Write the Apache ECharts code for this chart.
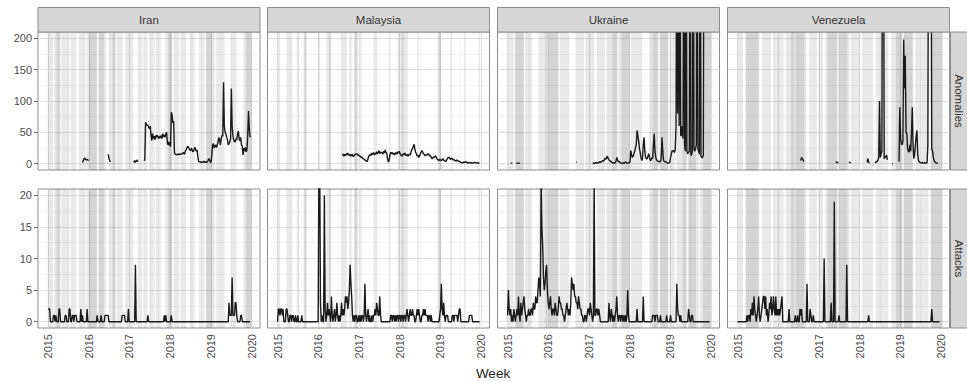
<!DOCTYPE html>
<html>
<head>
<meta charset="utf-8">
<script src="https://cdn.jsdelivr.net/npm/echarts@6/dist/echarts.min.js"></script>
<style>
  html, body { margin: 0; padding: 0; background: #fff; }
  #chart { width: 967px; height: 382px; }
</style>
</head>
<body>
<div id="chart"></div>
<script>
const _ = null; // week without a value

const countries = ['Iran', 'Malaysia', 'Ukraine', 'Venezuela'];
const rowNames = ['Anomalies', 'Attacks'];

// weekly series, first week starts at 2015.0
const firstWeek = 2015.0;
const weekStep = 7 / 365.25;

const iranAnomalies = [
  _,_,_,_,_,_,_,_,_,_,_,_,_,_,_,_,_,_,_,_,
  _,_,_,_,_,_,_,_,_,_,_,_,_,_,_,_,_,_,_,_,
  _,_,_,_,2,4,8,9,7,6,7,6,5,_,_,_,_,_,_,_,
  _,_,_,_,_,_,_,_,_,_,_,_,_,_,_,_,_,15,9,5,
  3,_,_,_,_,_,_,_,_,_,_,_,_,_,_,_,_,_,_,_,
  _,_,_,_,_,_,_,_,_,_,2,5,2,4,6,3,_,_,_,_,
  _,_,_,5,6,66,63,61,62,58,56,60,45,37,48,40,44,38,45,42,
  46,42,40,44,41,45,40,48,43,46,42,48,50,33,30,35,29,28,82,78,
  65,68,18,15,15,14,15,15,14,16,15,15,17,16,18,15,20,22,25,28,
  26,24,21,22,25,20,19,22,26,24,20,22,12,4,3,3,2,3,2,3,
  4,2,3,2,3,5,8,6,3,2,15,30,32,25,28,30,26,30,35,42,
  38,30,40,45,44,130,60,50,48,42,38,30,32,35,40,120,60,45,38,35,
  35,40,38,48,52,40,36,42,30,28,14,25,20,26,19,22,45,84,56,42
];
const malaysiaAnomalies = [
  _,_,_,_,_,_,_,_,_,_,_,_,_,_,_,_,_,_,_,_,
  _,_,_,_,_,_,_,_,_,_,_,_,_,_,_,_,_,_,_,_,
  _,_,_,_,_,_,_,_,_,_,_,_,_,_,_,_,_,_,_,_,
  _,_,_,_,_,_,_,_,_,_,_,_,_,_,_,_,_,_,_,_,
  _,_,_,16,14,12,15,13,15,17,14,16,13,15,12,14,15,11,13,14,
  16,15,16,13,14,12,12,10,11,9,8,7,6,5,4,4,8,12,14,15,
  13,17,15,18,14,17,15,19,16,18,21,16,19,17,18,15,20,17,22,18,
  16,8,3,5,14,18,16,18,15,17,14,16,18,15,19,17,20,16,14,12,
  13,16,14,17,15,13,15,12,13,16,14,18,22,24,28,31,24,18,16,12,
  14,10,12,16,18,21,19,16,15,13,13,15,14,16,15,12,13,10,8,9,
  11,10,12,12,9,7,6,5,7,6,5,6,8,6,5,4,4,6,9,10,
  10,8,7,9,8,6,7,5,5,4,6,5,4,4,3,2,2,1,2,3,
  2,3,3,2,1,2,2,1,1,2,1,1,2,2,2,1,1,2,1,1
];
const ukraineAnomalies = [
  _,_,_,_,1,1,1,_,_,_,_,1,1,1,1,1,1,_,_,_,
  _,_,_,_,_,_,_,_,_,_,_,_,_,_,_,_,_,_,_,_,
  _,_,_,_,_,_,_,_,_,_,_,_,_,_,_,_,_,_,_,_,
  _,_,_,_,_,_,_,_,_,_,_,_,_,_,_,_,_,_,_,_,
  _,_,_,_,_,_,_,_,3,3,_,_,_,_,_,_,_,_,_,_,
  _,_,_,_,_,_,_,_,_,1,1,0,1,2,1,2,1,2,3,2,
  3,4,5,4,6,9,7,10,12,8,6,5,4,3,2,1,1,2,1,4,
  10,6,3,4,2,1,1,0,1,2,1,3,2,1,1,2,1,3,21,14,
  10,12,16,20,26,30,53,45,37,25,18,10,5,8,30,42,20,10,8,8,
  12,16,10,5,6,10,8,30,48,20,10,6,5,4,3,4,3,10,42,20,
  5,4,3,3,2,1,1,1,3,10,15,21,20,21,18,22,60,600,80,600,
  60,600,45,45,60,40,600,30,20,600,20,16,18,20,600,13,15,20,600,25,
  20,24,30,600,24,20,15,600,12,10,10,14,600,_,_,_,_,_,_,_
];
const venezuelaAnomalies = [
  _,_,_,_,_,_,_,_,_,_,_,_,_,_,_,_,_,_,_,_,
  _,_,_,_,_,_,_,_,_,_,_,_,_,_,_,_,_,_,_,_,
  _,_,_,_,_,_,_,_,_,_,_,_,_,_,_,_,_,_,_,_,
  _,_,_,_,_,_,_,_,_,_,_,_,_,_,_,_,_,_,_,_,
  _,5,10,8,6,3,_,_,_,_,_,_,_,_,_,_,_,_,_,_,
  _,_,_,_,_,_,_,_,_,_,_,_,_,_,_,_,_,_,_,_,
  _,_,_,_,_,_,2,3,2,1,_,_,_,_,_,_,_,_,_,_,
  _,_,_,3,2,1,_,_,_,_,_,_,_,_,_,_,_,_,_,_,
  _,_,_,_,_,_,2,8,3,1,_,_,_,_,_,_,1,2,4,3,
  6,10,100,10,15,20,500,500,8,12,10,14,6,_,_,_,_,_,0,0,
  _,_,_,_,_,_,_,3,90,40,32,30,35,198,120,172,50,48,25,19,
  19,30,20,50,90,30,8,15,30,45,53,15,5,3,2,2,1,2,1,1,
  2,1,1,2,30,500,500,500,500,24,20,10,5,3,2,1,1,1,_,_
];

const iranAttacks = [
  2,2,2,0,0,0,0,1,1,0,1,0,0,0,2,2,0,0,0,0,
  0,0,1,1,0,0,0,2,2,0,0,1,1,0,1,1,1,0,0,0,
  0,0,2,0,1,0,0,0,0,0,2,0,0,0,0,0,0,0,0,0,
  0,0,0,1,0,0,0,0,1,0,0,0,0,1,1,1,1,1,0,0,
  0,0,0,0,0,0,0,0,0,0,0,0,0,0,0,1,1,1,1,0,
  0,0,0,2,0,0,0,0,0,0,0,0,9,0,0,0,0,0,0,0,
  0,0,0,0,0,0,0,0,1,0,0,0,0,0,0,0,0,0,0,0,
  0,0,0,0,0,0,0,0,0,1,0,1,0,0,0,0,0,0,1,0,
  0,0,0,0,0,0,0,0,0,0,0,0,0,0,0,0,0,0,0,0,
  0,0,0,0,0,0,0,0,0,0,0,0,0,0,0,0,0,0,0,0,
  0,0,0,0,0,0,0,0,0,0,0,0,0,0,0,0,0,0,0,0,
  0,0,0,0,0,0,0,0,0,0,0,0,3,1,1,1,7,1,1,1,
  3,3,1,0,0,0,0,1,1,0,0,0,0,0,0,0,0,0,0,0
];
const malaysiaAttacks = [
  0,2,2,1,2,2,1,2,0,0,0,2,2,1,0,0,1,1,0,1,
  1,0,0,1,0,0,1,0,0,0,0,1,0,0,0,0,0,0,0,0,
  0,0,0,0,0,0,0,0,0,0,0,0,0,25,25,3,0,1,0,0,
  20,2,0,1,3,1,2,1,0,4,1,0,1,2,0,1,3,1,0,1,
  0,1,3,1,2,1,2,4,3,4,2,3,5,9,6,4,1,0,1,0,
  1,1,0,0,1,0,1,0,1,1,0,1,6,1,0,1,2,0,1,0,
  0,1,0,1,1,2,1,3,2,1,1,4,1,0,0,0,0,0,0,0,
  0,0,0,0,0,1,1,0,1,1,0,1,0,1,1,0,1,1,0,1,
  1,0,1,1,0,1,2,1,0,1,2,1,1,2,1,1,0,0,1,2,
  1,2,1,0,0,1,1,2,1,2,1,1,1,0,1,1,0,1,0,0,
  0,0,0,0,0,0,0,0,1,2,6,2,1,3,1,0,1,1,1,0,
  0,0,0,0,1,1,0,1,1,1,1,0,1,2,2,0,0,0,0,0,
  0,0,0,0,0,0,1,1,1,1,0,0,0,0,0,0,0,0,0,0
];
const ukraineAttacks = [
  1,5,2,1,2,0,1,0,2,1,0,1,2,1,4,1,0,3,1,2,
  3,4,2,1,0,1,1,2,1,1,2,2,1,3,2,2,4,3,3,5,
  7,6,4,22,15,12,7,5,6,8,9,5,3,2,3,4,2,1,2,2,
  1,3,2,1,1,2,4,3,3,2,2,1,1,0,1,2,3,2,1,2,
  1,3,7,6,5,6,4,4,3,3,2,4,3,2,2,1,1,0,0,1,
  1,0,1,2,2,1,3,2,1,0,1,22,1,1,2,2,1,2,1,0,
  0,0,0,0,0,0,0,0,0,0,3,1,0,2,1,0,1,0,1,2,
  4,1,0,1,1,0,1,1,0,1,0,1,0,1,5,1,0,0,0,0,
  0,0,0,0,0,0,2,0,0,0,0,0,0,0,4,0,0,0,0,0,
  0,0,0,0,0,0,1,1,1,0,1,1,1,0,0,0,1,0,0,0,
  0,0,0,0,1,0,0,0,0,1,0,0,0,0,0,0,0,6,2,1,
  1,0,1,0,0,0,0,0,0,0,0,0,2,1,0,0,1,1,0,0,
  0,0,0,0,0,0,0,0,0,0,0,0,0,0,0,0,0,0,0,0
];
const venezuelaAttacks = [
  0,0,0,0,0,0,0,0,0,0,0,0,1,0,1,1,0,2,1,3,
  1,4,2,1,0,1,2,4,1,0,1,2,3,4,4,2,4,1,2,0,
  1,3,2,4,1,2,4,2,1,4,1,2,1,2,1,2,3,4,0,0,
  0,0,0,0,0,0,2,0,0,0,0,0,0,0,1,0,0,1,0,0,
  2,1,2,0,0,0,0,0,0,6,0,0,0,2,1,0,0,1,0,0,
  0,0,0,0,0,0,0,0,0,0,0,10,0,0,0,0,0,0,0,0,
  3,0,0,0,19,0,0,0,0,0,1,0,0,0,0,0,0,0,0,0,
  9,0,0,0,0,0,0,0,0,0,0,0,0,0,0,0,0,0,0,0,
  0,0,0,0,0,0,0,0,1,0,0,0,0,0,0,0,0,0,0,0,
  0,0,0,0,0,0,0,0,0,0,0,0,0,0,0,0,0,0,0,0,
  0,0,0,0,0,0,0,0,0,0,0,0,0,0,0,0,0,0,0,0,
  0,0,0,0,0,0,0,0,0,0,0,0,0,0,0,0,0,0,0,0,
  0,0,0,0,0,0,0,0,0,2,0,0,0,0,0,0,0,0,0,0
];

// shaded weeks, [start, end] in decimal years (overlaps show darker)
const iranBands = [
  [2014.99, 2015.12], [2015.14, 2015.30], [2015.33, 2015.52], [2015.55, 2015.69],
  [2015.75, 2015.92], [2015.95, 2016.20], [2016.23, 2016.43],
  [2016.50, 2016.66], [2016.69, 2016.83], [2016.90, 2017.10],
  [2017.20, 2017.31], [2017.34, 2017.43], [2017.49, 2017.62], [2017.65, 2017.77],
  [2017.88, 2018.05], [2018.08, 2018.22], [2018.25, 2018.39], [2018.49, 2018.60],
  [2018.71, 2018.85], [2018.88, 2019.10], [2019.13, 2019.34], [2019.49, 2019.63],
  [2019.80, 2020.00],
  [2015.21, 2015.30], [2016.00, 2016.20], [2016.25, 2016.37], [2016.58, 2016.66],
  [2017.95, 2018.05], [2018.88, 2019.03], [2019.86, 2020.00]
];
const malaysiaBands = [
  [2015.00, 2015.06], [2015.22, 2015.36], [2015.47, 2015.53], [2015.64, 2015.72],
  [2015.66, 2015.70], [2016.00, 2016.04], [2016.20, 2016.32], [2016.26, 2016.30],
  [2016.55, 2016.70], [2016.76, 2016.82], [2016.88, 2016.98], [2016.90, 2016.95],
  [2017.03, 2017.07], [2017.36, 2017.45], [2017.73, 2017.78], [2017.95, 2018.20],
  [2018.05, 2018.10], [2018.43, 2018.47], [2018.93, 2019.02], [2018.96, 2019.00],
  [2019.25, 2019.29], [2019.58, 2019.62], [2019.94, 2019.98]
];
const ukraineBands = [
  [2015.00, 2015.15], [2015.18, 2015.40], [2015.43, 2015.60], [2015.76, 2015.98],
  [2016.01, 2016.25], [2016.28, 2016.50], [2016.67, 2016.88], [2016.91, 2017.13],
  [2017.19, 2017.40], [2017.43, 2017.70], [2017.73, 2018.00], [2018.03, 2018.31],
  [2018.48, 2018.70], [2018.73, 2018.95], [2018.98, 2019.11], [2019.15, 2019.40],
  [2019.43, 2019.70], [2019.73, 2020.00],
  [2015.19, 2015.40], [2015.93, 2016.25], [2017.57, 2017.70], [2017.80, 2018.00],
  [2018.56, 2018.70], [2018.75, 2018.95], [2019.30, 2019.40], [2019.45, 2019.63],
  [2019.80, 2020.00]
];
const venezuelaBands = [
  [2015.00, 2015.13], [2015.20, 2015.54], [2015.60, 2015.82], [2015.87, 2016.13],
  [2016.18, 2016.40], [2016.43, 2016.69], [2016.76, 2016.95], [2016.98, 2017.10],
  [2017.16, 2017.45], [2017.48, 2017.75], [2017.78, 2018.00], [2018.06, 2018.33],
  [2018.40, 2018.70], [2018.78, 2019.05], [2019.08, 2019.32], [2019.37, 2019.69],
  [2019.74, 2020.05],
  [2015.20, 2015.50], [2016.31, 2016.64], [2017.21, 2017.45], [2017.48, 2017.70],
  [2018.89, 2019.05], [2019.08, 2019.30], [2019.75, 2020.00]
];

const yearTicks = [2015, 2016, 2017, 2018, 2019, 2020];
const yearMinor = [2015.5, 2016.5, 2017.5, 2018.5, 2019.5];
const anomalyTicks = [0, 50, 100, 150, 200];
const anomalyMinor = [25, 75, 125, 175];
const attackTicks = [0, 5, 10, 15, 20];
const attackMinor = [2.5, 7.5, 12.5, 17.5];

const anomalies = [iranAnomalies, malaysiaAnomalies, ukraineAnomalies, venezuelaAnomalies];
const attacks = [iranAttacks, malaysiaAttacks, ukraineAttacks, venezuelaAttacks];
const bands = [iranBands, malaysiaBands, ukraineBands, venezuelaBands];

// layout
const FONT = 'Liberation Sans, Arial, sans-serif';
const colLeft = [38, 267.5, 497.5, 727.5];
const panelW = 222;
const rowTop = [32, 189];
const rowH = [138, 139];
const yRange = [[-10, 210], [-1, 21]];
const yTicks = [anomalyTicks, attackTicks];
const yMinor = [anomalyMinor, attackMinor];

const majorLine = { color: '#e0e0e0', width: 1, type: 'solid' };
const minorLine = { color: '#ececec', width: 0.6, type: 'solid' };

const grids = [], xAxes = [], yAxes = [], series = [];

for (let r = 0; r < 2; r++) {
  for (let c = 0; c < 4; c++) {
    const k = r * 4 + c;
    grids.push({
      left: colLeft[c], top: rowTop[r], width: panelW, height: rowH[r],
      show: true, backgroundColor: '#ffffff', borderColor: '#8c8c8c', borderWidth: 1
    });
    xAxes.push({
      gridIndex: k, type: 'value', min: 2014.752, max: 2020.208,
      axisLine: { show: false },
      splitLine: { show: false },
      axisTick: { show: r === 1, customValues: yearTicks, length: 4, lineStyle: { color: '#666' } },
      axisLabel: {
        show: r === 1, customValues: yearTicks, rotate: 90, margin: 6,
        fontSize: 11, color: '#4d4d4d', fontFamily: FONT,
        formatter: v => String(Math.round(v))
      }
    });
    yAxes.push({
      gridIndex: k, type: 'value', min: yRange[r][0], max: yRange[r][1],
      axisLine: { show: false },
      splitLine: { show: false },
      axisTick: { show: c === 0, customValues: yTicks[r], length: 4, lineStyle: { color: '#666' } },
      axisLabel: {
        show: c === 0, customValues: yTicks[r], margin: 6,
        fontSize: 11, color: '#4d4d4d', fontFamily: FONT
      }
    });

    const values = r === 0 ? anomalies[c] : attacks[c];
    const gridLines = []
      .concat(yearTicks.map(x => ({ xAxis: x, lineStyle: majorLine })))
      .concat(yearMinor.map(x => ({ xAxis: x, lineStyle: minorLine })))
      .concat(yTicks[r].map(y => ({ yAxis: y, lineStyle: majorLine })))
      .concat(yMinor[r].map(y => ({ yAxis: y, lineStyle: minorLine })));

    series.push({
      type: 'line',
      xAxisIndex: k, yAxisIndex: k,
      data: values.map((v, i) => [firstWeek + i * weekStep, v === null ? '-' : v]),
      showSymbol: false,
      connectNulls: false,
      z: 3,
      lineStyle: { color: '#1a1a1a', width: 1.4 },
      markLine: {
        silent: true, z: 1, symbol: ['none', 'none'], label: { show: false },
        animation: false, data: gridLines
      },
      markArea: {
        silent: true, z: 2,
        itemStyle: { color: 'rgba(0,0,0,0.085)' },
        data: bands[c].map(b => [{ xAxis: b[0] }, { xAxis: b[1] }])
      }
    });
  }
}

// facet strips and titles
const graphics = [];
countries.forEach((name, c) => {
  graphics.push({
    type: 'rect', shape: { x: colLeft[c], y: 7.5, width: panelW, height: 24.5 },
    style: { fill: '#d7d7d7', stroke: '#8c8c8c', lineWidth: 1 }, z: 10
  });
  graphics.push({
    type: 'text', x: colLeft[c] + panelW / 2, y: 20, z: 11,
    style: { text: name, align: 'center', verticalAlign: 'middle', textAlign: 'center',
      textVerticalAlign: 'middle', fontSize: 11.5, fill: '#333', fontFamily: FONT }
  });
});
rowNames.forEach((name, r) => {
  graphics.push({
    type: 'rect', shape: { x: 950.5, y: rowTop[r], width: 20, height: rowH[r] },
    style: { fill: '#d7d7d7', stroke: '#8c8c8c', lineWidth: 1 }, z: 10
  });
  graphics.push({
    type: 'text', x: 959, y: rowTop[r] + rowH[r] / 2, rotation: -Math.PI / 2, z: 11,
    style: { text: name, align: 'center', verticalAlign: 'middle', textAlign: 'center',
      textVerticalAlign: 'middle', fontSize: 11.5, fill: '#333', fontFamily: FONT }
  });
});
graphics.push({
  type: 'text', x: 493, y: 373, z: 11,
  style: { text: 'Week', align: 'center', verticalAlign: 'middle', textAlign: 'center',
    textVerticalAlign: 'middle', fontSize: 13.5, fill: '#222', fontFamily: FONT }
});

const chart = echarts.init(document.getElementById('chart'), null, { renderer: 'svg' });
chart.setOption({
  animation: false,
  backgroundColor: '#ffffff',
  textStyle: { fontFamily: FONT },
  grid: grids,
  xAxis: xAxes,
  yAxis: yAxes,
  series: series,
  graphic: { elements: graphics }
});
</script>
</body>
</html>
